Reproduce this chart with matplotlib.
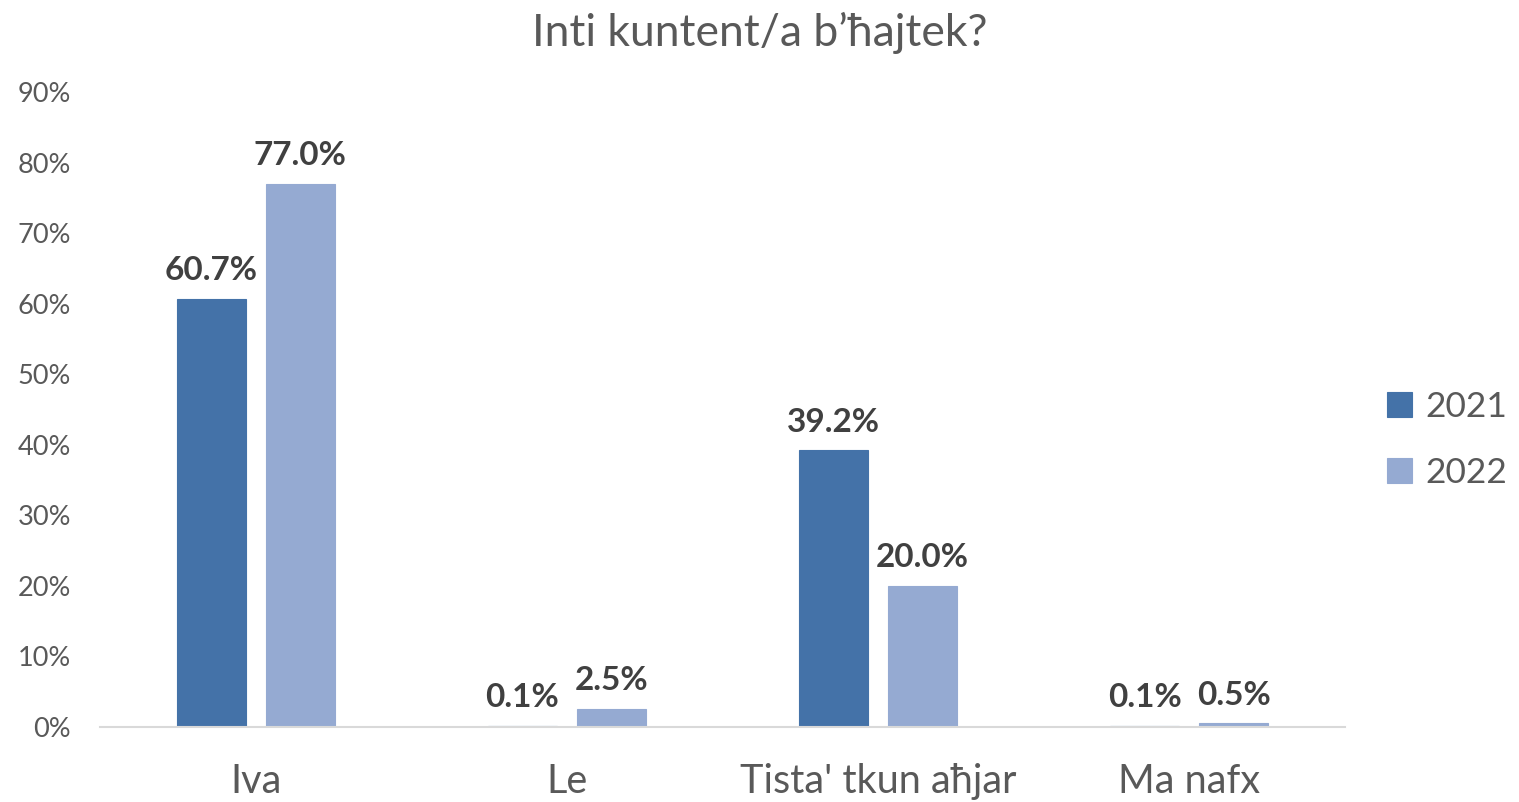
import matplotlib.pyplot as plt
import numpy as np

# data
categories = ["Iva", "Le", "Tista' tkun aħjar", "Ma nafx"]
years = ["2021", "2022"]
values_2021 = [60.7, 0.1, 39.2, 0.1]
values_2022 = [77.0, 2.5, 20.0, 0.5]
y_ticks = [0, 10, 20, 30, 40, 50, 60, 70, 80, 90]

plt.rcParams['font.family'] = ['Lato', 'DejaVu Sans']

fig = plt.figure(figsize=(15.19, 8.02), dpi=100)
ax = fig.add_axes([0.0658, 0.0935, 0.8197, 0.7918])

x = np.arange(len(categories))
width = 0.222
offset = 0.143

colors = ['#4472a8', '#95aad2']
series = [values_2021, values_2022]
for i, (vals, year) in enumerate(zip(series, years)):
    pos = x + (offset if i else -offset)
    # thin edge so the 0.1% bars still show up as a hairline
    bars = ax.bar(pos, vals, width, color=colors[i], edgecolor=colors[i],
                  linewidth=0.8, label=year, zorder=2)
    for b, v in zip(bars, vals):
        ax.annotate(f"{v:.1f}%", (b.get_x() + b.get_width() / 2, v),
                    xytext=(0, 10), textcoords='offset points',
                    ha='center', va='bottom', fontsize=24,
                    fontweight='bold', color='#404040')

ax.set_xlim(-0.5, len(categories) - 0.5)
ax.set_ylim(0, 90)
ax.set_yticks(y_ticks)
ax.set_yticklabels([f"{t}%" for t in y_ticks])
ax.set_xticks(x)
ax.set_xticklabels(categories)
ax.tick_params(axis='y', length=0, labelsize=19.5, labelcolor='#595959', pad=21)
ax.tick_params(axis='x', length=0, labelsize=28.5, labelcolor='#595959', pad=26)

for side in ['top', 'right', 'left']:
    ax.spines[side].set_visible(False)
ax.spines['bottom'].set_color('#d9d9d9')
ax.spines['bottom'].set_linewidth(1.5)

fig.suptitle("Inti kuntent/a b’ħajtek?", fontsize=32, color='#595959', y=0.985)

leg = ax.legend(loc='center left', bbox_to_anchor=(1.008, 0.452), frameon=False,
                fontsize=25.5, handlelength=0.7, handleheight=0.7,
                handletextpad=0.4, labelspacing=0.95)
for t in leg.get_texts():
    t.set_color('#595959')

plt.savefig('out.png', dpi=100)
